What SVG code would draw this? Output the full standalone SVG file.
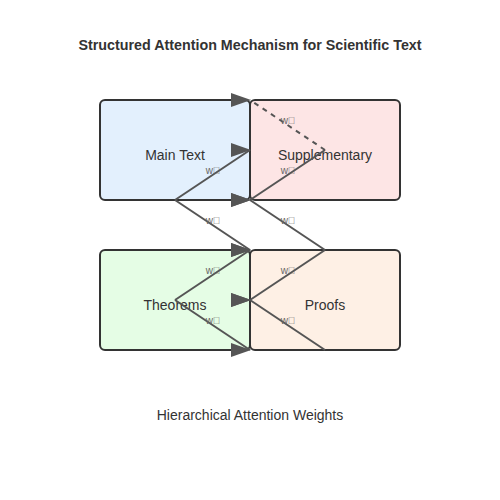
<svg xmlns="http://www.w3.org/2000/svg" width="500" height="500" viewBox="0 0 500 500">
<defs>
<marker id="arrow" markerWidth="10" markerHeight="7" refX="9.5" refY="3.5">
<polygon points="0 0, 10 3.5, 0 7" fill="#555"/>
</marker>
<style>
.title{font-family:"Liberation Sans",Arial,sans-serif;font-size:14.3px;font-weight:bold;fill:#333;text-anchor:middle}
.node rect{stroke:#333;stroke-width:2}
.node text{font-family:"Liberation Sans",Arial,sans-serif;font-size:14px;fill:#333;text-anchor:middle;dominant-baseline:middle}
.edge{fill:none;stroke:#555;stroke-width:2;marker-end:url(#arrow)}
.dashed{stroke-dasharray:5,5}
.lbl{font-family:"Liberation Sans",Arial,sans-serif;font-size:10px;fill:#666;text-anchor:middle}
.caption{font-family:"Liberation Sans",Arial,sans-serif;font-size:14px;fill:#333;text-anchor:middle}
</style>
</defs>
<rect width="500" height="500" fill="#fff"/>
<text class="title" x="250" y="50">Structured Attention Mechanism for Scientific Text</text>
<g id="main-text" class="node">
<rect x="100" y="100" width="150" height="100" rx="5" fill="#e3f0fd"/>
<text x="175" y="156">Main Text</text>
</g>
<g id="supplementary" class="node">
<rect x="250" y="100" width="150" height="100" rx="5" fill="#fde5e5"/>
<text x="325" y="156">Supplementary</text>
</g>
<g id="theorems" class="node">
<rect x="100" y="250" width="150" height="100" rx="5" fill="#e5fde5"/>
<text x="175" y="306">Theorems</text>
</g>
<g id="proofs" class="node">
<rect x="250" y="250" width="150" height="100" rx="5" fill="#fef0e5"/>
<text x="325" y="306">Proofs</text>
</g>
<g id="connectors">
<path class="edge dashed" d="M325 150 L250 100"/>
<path class="edge" d="M175 200 L250 150"/>
<path class="edge" d="M325 150 L250 200"/>
<path class="edge" d="M175 200 L250 250"/>
<path class="edge" d="M325 250 L250 200"/>
<path class="edge" d="M175 300 L250 250"/>
<path class="edge" d="M325 250 L250 300"/>
<path class="edge" d="M175 300 L250 350"/>
<path class="edge" d="M325 350 L250 300"/>
<text class="lbl" x="288" y="124">w&#xE000;</text>
<text class="lbl" x="213" y="174">w&#xE000;</text>
<text class="lbl" x="288" y="174">w&#xE000;</text>
<text class="lbl" x="213" y="224">w&#xE000;</text>
<text class="lbl" x="288" y="224">w&#xE000;</text>
<text class="lbl" x="213" y="274">w&#xE000;</text>
<text class="lbl" x="288" y="274">w&#xE000;</text>
<text class="lbl" x="213" y="324">w&#xE000;</text>
<text class="lbl" x="288" y="324">w&#xE000;</text>
</g>
<text class="caption" x="250" y="420">Hierarchical Attention Weights</text>
</svg>
